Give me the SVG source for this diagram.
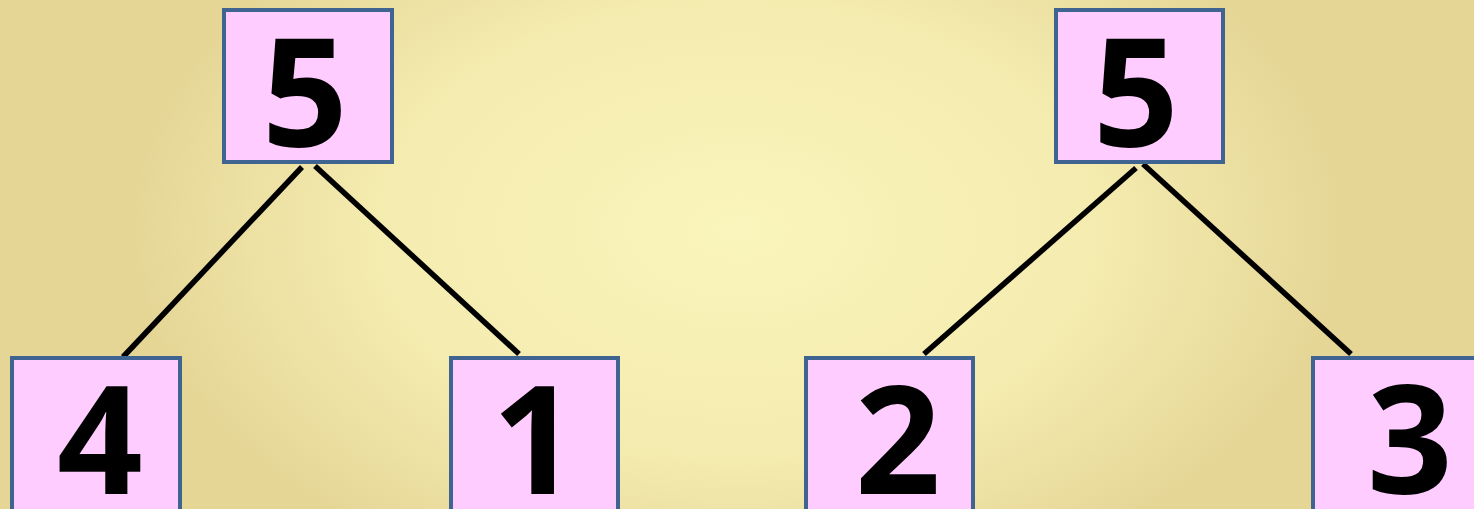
<svg xmlns="http://www.w3.org/2000/svg" width="1474" height="509" viewBox="0 0 1474 509">
<defs>
<radialGradient id="bg" cx="0.5" cy="0.45" r="0.75" gradientTransform="translate(0.5 0.45) scale(0.55 1) translate(-0.5 -0.45)">
<stop offset="0" stop-color="#FAF5BC"/>
<stop offset="0.6" stop-color="#F4EBAF"/>
<stop offset="1" stop-color="#E5D696"/>
</radialGradient>
<style>
.box{fill:#FFCCFF;stroke:#3F6491;stroke-width:4}
.num{font-family:"Open Sans","Noto Sans",sans-serif;font-weight:700;font-size:150px;fill:#000;text-anchor:middle}
.edge{stroke:#000;stroke-width:5.5;fill:none}
</style>
</defs>
<rect width="1474" height="509" fill="url(#bg)"/>
<g id="connectors">
<line class="edge" x1="302" y1="167" x2="123" y2="357"/>
<line class="edge" x1="315" y1="166" x2="519" y2="354"/>
<line class="edge" x1="1136" y1="168" x2="924" y2="354"/>
<line class="edge" x1="1143" y1="164" x2="1351" y2="354"/>
</g>
<g id="n5a"><rect class="box" x="224" y="10" width="168" height="152"/><text class="num" x="305" y="147">5</text></g>
<g id="n5b"><rect class="box" x="1056" y="10" width="167" height="152"/><text class="num" x="1136" y="147">5</text></g>
<g id="n4"><rect class="box" x="12" y="358" width="168" height="160"/><text class="num" x="100" y="494">4</text></g>
<g id="n1"><rect class="box" x="451" y="358" width="167" height="160"/><text class="num" x="535" y="494">1</text></g>
<g id="n2"><rect class="box" x="806" y="358" width="167" height="160"/><text class="num" x="898" y="494">2</text></g>
<g id="n3"><rect class="box" x="1313" y="358" width="167" height="160"/><text class="num" x="1410" y="494">3</text></g>
</svg>
